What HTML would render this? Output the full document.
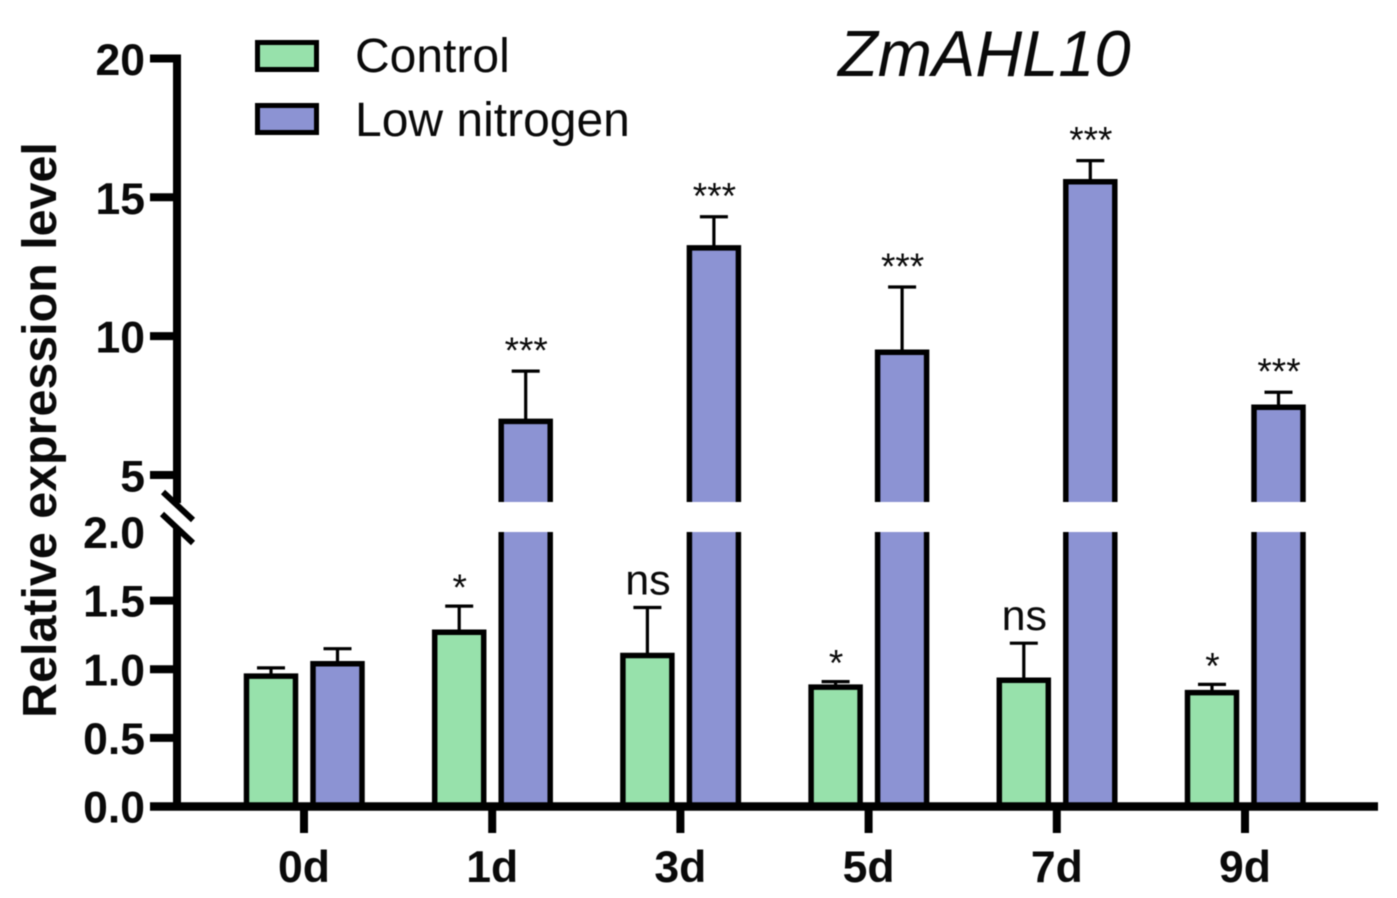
<!DOCTYPE html>
<html lang="en">
<head>
<meta charset="utf-8">
<title>ZmAHL10 relative expression</title>
<style>
html,body{margin:0;padding:0;background:#fff;width:1397px;height:898px;overflow:hidden}
svg{display:block;filter:blur(0.6px)}
text{font-family:"Liberation Sans",sans-serif;fill:#0a0a0a}
.tick{font-weight:700;font-size:44.5px}
</style>
</head>
<body>
<svg id="chart" width="1397" height="898" viewBox="0 0 1397 898">
  <g id="legend">
    <g>
      <rect x="257.5" y="42.5" width="59" height="27" fill="#97E1AB" stroke="#000" stroke-width="5"/>
      <text x="355" y="72" font-size="48">Control</text>
    </g>
    <g>
      <rect x="257.5" y="105.5" width="59" height="27" fill="#8C93D3" stroke="#000" stroke-width="5"/>
      <text x="355" y="136" font-size="48">Low nitrogen</text>
    </g>
  </g>
  <text x="838" y="76" font-size="65" font-style="italic">ZmAHL10</text>
  <text transform="translate(56,430) rotate(-90)" text-anchor="middle" font-size="48.4" font-weight="700">Relative expression level</text>
</svg>
<script>
const categories = ['0d', '1d', '3d', '5d', '7d', '9d'];
const controlValues = [0.95, 1.27, 1.10, 0.87, 0.92, 0.83];
const controlErrors = [0.06, 0.19, 0.35, 0.04, 0.27, 0.06];
const lowNitrogenValues = [1.04, 6.93, 13.18, 9.42, 15.56, 7.44];
const lowNitrogenErrors = [0.11, 1.81, 1.12, 2.35, 0.76, 0.54];
const controlSignificance = ['', '*', 'ns', '*', 'ns', '*'];
const lowNitrogenSignificance = ['', '***', '***', '***', '***', '***'];
const lowerTicks = [0, 0.5, 1.0, 1.5, 2.0];
const upperTicks = [5, 10, 15, 20];

const NS = 'http://www.w3.org/2000/svg';
const svg = document.getElementById('chart');
const BREAK_LOW = 2.0;
const axisX = 177;
const gapTop = 502;
const gapBottom = 532;

function yLower(v) { return 806.5 - v * 137.25; }
function yUpper(v) { return 475 - (v - 5) * 27.77; }
function yValue(v) { return v <= BREAK_LOW ? yLower(v) : yUpper(v); }
function xCenter(i) { return 304 + i * 188.2; }

function make(tag, attrs, parent) {
  const el = document.createElementNS(NS, tag);
  for (const k in attrs) el.setAttribute(k, attrs[k]);
  (parent || svg).appendChild(el);
  return el;
}

function drawBar(i, value, err, sig, offset, fill, key) {
  const g = make('g', {});
  
  
  const cx = xCenter(i) + offset;
  const half = 24.5;
  const top = yValue(value);
  const errTop = yValue(value + err);
  const base = 806;

  const whisker = make('path', {
    d: 'M' + cx + ' ' + top + 'V' + errTop + 'M' + (cx - 14) + ' ' + errTop + 'H' + (cx + 14),
    fill: 'none', stroke: '#000', 'stroke-width': 3.2
  }, g);
  
  

  if (value > BREAK_LOW) {
    const fillTop = make('rect', { x: cx - half, y: top, width: half * 2, height: gapTop - top, fill: fill }, g);
    
    
    const fillBottom = make('rect', { x: cx - half, y: gapBottom, width: half * 2, height: base - gapBottom, fill: fill }, g);
    
    
    const outline = make('path', {
      d: 'M' + (cx - half) + ' ' + gapTop + 'V' + top + 'H' + (cx + half) + 'V' + gapTop +
         'M' + (cx - half) + ' ' + gapBottom + 'V' + base + 'M' + (cx + half) + ' ' + gapBottom + 'V' + base,
      fill: 'none', stroke: '#000', 'stroke-width': 5.5
    }, g);
    
    
  } else {
    const bar = make('path', {
      d: 'M' + (cx - half) + ' ' + base + 'V' + top + 'H' + (cx + half) + 'V' + base,
      fill: fill, stroke: '#000', 'stroke-width': 5.5
    }, g);
    
    
  }

  if (sig) {
    const isNs = sig === 'ns';
    const isSingle = sig === '*';
    const label = make('text', {
      x: cx + 0.5,
      y: errTop + (isNs ? -13 : (isSingle ? -6 : -8)),
      'text-anchor': 'middle',
      'font-size': isNs ? 43 : 37
    }, g);
    label.textContent = sig;
    
    
  }
}

categories.forEach(function (c, i) {
  drawBar(i, controlValues[i], controlErrors[i], controlSignificance[i], -33, '#97E1AB', 'control');
  drawBar(i, lowNitrogenValues[i], lowNitrogenErrors[i], lowNitrogenSignificance[i], 33.5, '#8C93D3', 'low-nitrogen');
});

/* axes */
const axisG = make('g', {});



const yUpperLine = make('path', { d: 'M' + axisX + ' ' + (yUpper(20) - 4) + 'V503', stroke: '#000', 'stroke-width': 8, fill: 'none' }, axisG);



const yLowerLine = make('path', { d: 'M' + axisX + ' 528V' + yLower(0), stroke: '#000', 'stroke-width': 8, fill: 'none' }, axisG);



const break1 = make('path', { d: 'M163 492L193 520', stroke: '#000', 'stroke-width': 6, fill: 'none' }, axisG);



const break2 = make('path', { d: 'M162 514L193 543', stroke: '#000', 'stroke-width': 6, fill: 'none' }, axisG);



const xLine = make('path', { d: 'M150 ' + yLower(0) + 'H1378', stroke: '#000', 'stroke-width': 8.5, fill: 'none' }, axisG);



upperTicks.forEach(function (t) {
  const y = yUpper(t);
  const tick = make('path', { d: 'M150 ' + y + 'H' + axisX, stroke: '#000', 'stroke-width': 8, fill: 'none' }, axisG);
  
  
  const label = make('text', { x: 145, y: y + 16.5, 'text-anchor': 'end', class: 'tick' }, axisG);
  label.textContent = String(t);
  
  
});

lowerTicks.forEach(function (t) {
  const y = yLower(t);
  const text = t.toFixed(1);
  if (t < BREAK_LOW) {
    const tick = make('path', { d: 'M150 ' + y + 'H' + axisX, stroke: '#000', 'stroke-width': 8, fill: 'none' }, axisG);
    
    
  }
  const label = make('text', { x: 145, y: y + 16, 'text-anchor': 'end', class: 'tick' }, axisG);
  label.textContent = text;
  
  
});

categories.forEach(function (c, i) {
  const x = xCenter(i);
  const tick = make('path', { d: 'M' + x + ' ' + yLower(0) + 'V833', stroke: '#000', 'stroke-width': 8, fill: 'none' }, axisG);
  
  
  const label = make('text', { x: x, y: 882, 'text-anchor': 'middle', class: 'tick' }, axisG);
  label.textContent = c;
  
  
});
</script>
</body>
</html>
